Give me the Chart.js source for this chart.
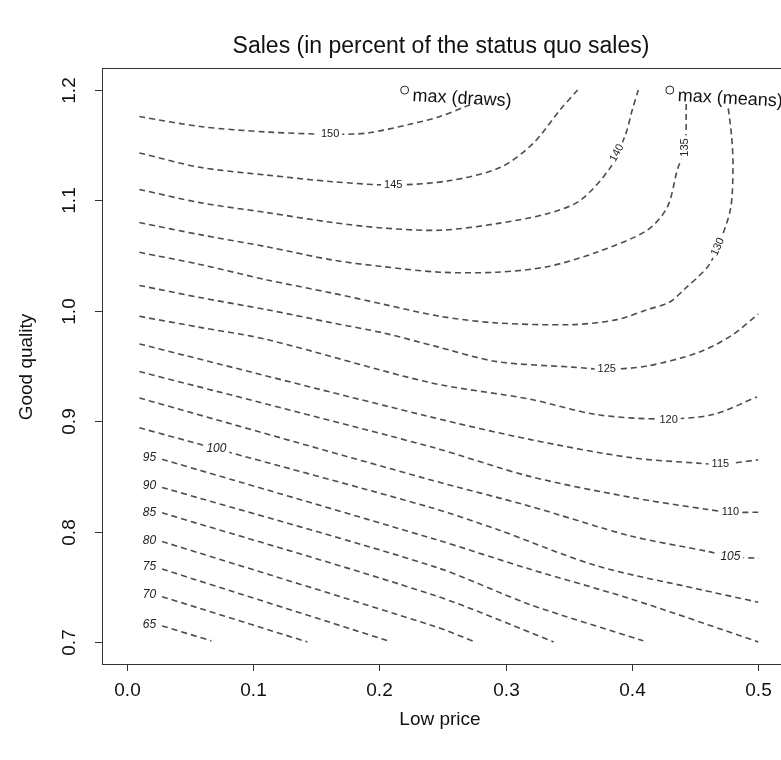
<!DOCTYPE html>
<html>
<head>
<meta charset="utf-8">
<script src="https://cdn.jsdelivr.net/npm/chart.js@4.4.0/dist/chart.umd.min.js"></script>
<style>
  html, body { margin: 0; padding: 0; background: #fff; overflow: hidden; }
  canvas { display: block; }
</style>
</head>
<body>
<canvas id="contour" width="790" height="760"></canvas>
<script>
// contour lines, [low price, good quality] pairs
var c150 = [[0.01,1.176],[0.058,1.167],[0.111,1.162],[0.161,1.160],[0.19,1.161],[0.224,1.169],[0.248,1.176],[0.268,1.185],[0.277,1.189]];
var c145 = [[0.01,1.143],[0.058,1.130],[0.111,1.123],[0.163,1.117],[0.211,1.114],[0.256,1.118],[0.296,1.130],[0.322,1.152],[0.343,1.182],[0.357,1.2]];
var c140 = [[0.01,1.11],[0.058,1.098],[0.111,1.089],[0.163,1.080],[0.203,1.075],[0.248,1.073],[0.293,1.079],[0.333,1.088],[0.359,1.100],[0.383,1.130],[0.395,1.160],[0.400,1.181],[0.405,1.2]];
var c135 = [[0.01,1.08],[0.058,1.069],[0.111,1.058],[0.163,1.046],[0.203,1.040],[0.248,1.035],[0.293,1.035],[0.333,1.040],[0.372,1.053],[0.412,1.073],[0.428,1.094],[0.436,1.128],[0.442,1.148],[0.443,1.189]];
var c130 = [[0.01,1.053],[0.058,1.042],[0.111,1.028],[0.163,1.016],[0.203,1.006],[0.248,0.995],[0.293,0.989],[0.353,0.9875],[0.388,0.992],[0.412,1.001],[0.430,1.008],[0.441,1.019],[0.460,1.040],[0.468,1.058],[0.478,1.092],[0.480,1.130],[0.479,1.157],[0.476,1.186]];
var c125 = [[0.01,1.023],[0.058,1.012],[0.111,1.001],[0.163,0.989],[0.203,0.980],[0.244,0.968],[0.293,0.954],[0.353,0.949],[0.380,0.947],[0.412,0.950],[0.452,0.962],[0.478,0.977],[0.5,0.997]];
var c120 = [[0.01,0.995],[0.058,0.985],[0.111,0.974],[0.240,0.935],[0.319,0.920],[0.372,0.906],[0.425,0.902],[0.464,0.906],[0.499,0.922]];
var c115 = [[0.01,0.970],[0.24,0.904],[0.319,0.8835],[0.399,0.867],[0.452,0.862],[0.470,0.861],[0.5,0.865]];
var c110 = [[0.01,0.945],[0.24,0.877],[0.319,0.850],[0.399,0.831],[0.46,0.820],[0.478,0.8175],[0.5,0.8175]];
var c105 = [[0.01,0.921],[0.24,0.847],[0.319,0.823],[0.399,0.796],[0.46,0.782],[0.478,0.777],[0.5,0.776]];
var c100 = [[0.01,0.894],[0.071,0.875],[0.24,0.822],[0.293,0.802],[0.372,0.769],[0.452,0.748],[0.5,0.736]];
var c95 = [[0.028,0.8655],[0.244,0.793],[0.319,0.766],[0.399,0.739],[0.5,0.7]];
var c90 = [[0.028,0.840],[0.244,0.768],[0.319,0.734],[0.409,0.701]];
var c85 = [[0.028,0.817],[0.244,0.742],[0.338,0.700]];
var c80 = [[0.028,0.791],[0.244,0.714],[0.276,0.700]];
var c75 = [[0.028,0.766],[0.207,0.701]];
var c70 = [[0.028,0.741],[0.143,0.700]];
var c65 = [[0.028,0.7145],[0.067,0.701]];
var contourLines = [c150, c145, c140, c135, c130, c125, c120, c115, c110, c105, c100, c95, c90, c85, c80, c75, c70, c65];

// contour labels
var labelText   = ['150','145','140','135','130','125','120','115','110','105','100','95','90','85','80','75','70','65'];
var labelX      = [0.161,0.211,0.388,0.442,0.468,0.380,0.429,0.470,0.478,0.478,0.071,0.018,0.018,0.018,0.018,0.018,0.018,0.018];
var labelY      = [1.160,1.114,1.143,1.148,1.058,0.947,0.901,0.861,0.8175,0.777,0.875,0.867,0.842,0.8175,0.792,0.768,0.743,0.716];
var labelRot    = [0,0,-62,-90,-65,0,0,0,0,0,0,0,0,0,0,0,0,0];
var labelItalic = [0,0,0,0,0,0,0,0,0,1,1,1,1,1,1,1,1,1];

// maxima
var maxX = [0.22, 0.43];
var maxY = [1.2, 1.2];
var maxText = ['max (draws)', 'max (means)'];

var xTicks = [0.0, 0.1, 0.2, 0.3, 0.4, 0.5];
var xTickLabels = ['0.0', '0.1', '0.2', '0.3', '0.4', '0.5'];
var yTicks = [0.7, 0.8, 0.9, 1.0, 1.1, 1.2];
var yTickLabels = ['0.7', '0.8', '0.9', '1.0', '1.1', '1.2'];

var FONT = '"Liberation Sans", Arial, Helvetica, sans-serif';

var datasets = contourLines.map(function(line) {
    return {
        data: line.map(function(p) { return { x: p[0], y: p[1] }; }),
        showLine: true,
        borderColor: '#4d4d4d',
        borderWidth: 1.6,
        borderDash: [6, 4],
        pointRadius: 0,
        tension: 0.3,
        fill: false
    };
});
datasets.unshift({
    data: maxX.map(function(x, i) { return { x: x, y: maxY[i] }; }),
    showLine: false,
    pointRadius: 4,
    pointBorderWidth: 1,
    pointBorderColor: '#222',
    pointBackgroundColor: 'rgba(0,0,0,0)'
});

// axes, box, text (R style)
var decor = {
    id: 'decor',
    afterDatasetsDraw: function(chart) {
        var ctx = chart.ctx, a = chart.chartArea;
        var xs = chart.scales.x, ys = chart.scales.y;
        ctx.save();

        // contour labels with a white gap under them
        ctx.textAlign = 'center';
        ctx.textBaseline = 'middle';
        labelText.forEach(function(t, i) {
            var px = xs.getPixelForValue(labelX[i]);
            var py = ys.getPixelForValue(labelY[i]);
            ctx.save();
            ctx.translate(px, py);
            ctx.rotate(labelRot[i] * Math.PI / 180);
            ctx.font = labelItalic[i] ? 'italic 12px ' + FONT : '11px ' + FONT;
            var w = ctx.measureText(t).width;
            ctx.fillStyle = '#fff';
            ctx.fillRect(-w / 2 - 3, -5, w + 6, 10);
            ctx.fillStyle = '#222';
            ctx.fillText(t, 0, 0);
            ctx.restore();
        });

        // max labels
        ctx.font = '18px ' + FONT;
        ctx.textAlign = 'left';
        maxText.forEach(function(t, i) {
            var px = xs.getPixelForValue(maxX[i]);
            var py = ys.getPixelForValue(maxY[i]);
            ctx.save();
            ctx.translate(px + 8, py + 6);
            ctx.rotate(3 * Math.PI / 180);
            ctx.fillStyle = '#111';
            ctx.fillText(t, 0, 0);
            ctx.restore();
        });

        // box
        ctx.strokeStyle = '#333';
        ctx.lineWidth = 1;
        ctx.strokeRect(a.left + 0.5, a.top + 0.5, a.right - a.left, a.bottom - a.top);

        // x axis
        ctx.font = '19px ' + FONT;
        ctx.fillStyle = '#111';
        ctx.textAlign = 'center';
        ctx.textBaseline = 'middle';
        xTicks.forEach(function(v, i) {
            var px = Math.round(xs.getPixelForValue(v)) + 0.5;
            ctx.beginPath();
            ctx.moveTo(px, a.bottom);
            ctx.lineTo(px, a.bottom + 7);
            ctx.stroke();
            ctx.fillText(xTickLabels[i], px, a.bottom + 27);
        });

        // y axis
        yTicks.forEach(function(v, i) {
            var py = Math.round(ys.getPixelForValue(v)) + 0.5;
            ctx.beginPath();
            ctx.moveTo(a.left - 7, py);
            ctx.lineTo(a.left, py);
            ctx.stroke();
            ctx.save();
            ctx.translate(a.left - 32, py);
            ctx.rotate(-Math.PI / 2);
            ctx.fillText(yTickLabels[i], 0, 0);
            ctx.restore();
        });

        // titles
        ctx.fillText('Low price', 440, 720);
        ctx.save();
        ctx.translate(27, 367);
        ctx.rotate(-Math.PI / 2);
        ctx.fillText('Good quality', 0, 0);
        ctx.restore();
        ctx.font = '23px ' + FONT;
        ctx.fillText('Sales (in percent of the status quo sales)', 441, 47);

        ctx.restore();
    }
};

new Chart(document.getElementById('contour').getContext('2d'), {
    type: 'scatter',
    data: { datasets: datasets },
    options: {
        responsive: false,
        animation: false,
        layout: { padding: { left: 102, top: 68, right: 7, bottom: 96 } },
        plugins: { legend: { display: false }, tooltip: { enabled: false } },
        scales: {
            x: { type: 'linear', min: -0.0196, max: 0.5196, display: false },
            y: { type: 'linear', min: 0.68, max: 1.22, display: false }
        }
    },
    plugins: [decor]
});
</script>
</body>
</html>
